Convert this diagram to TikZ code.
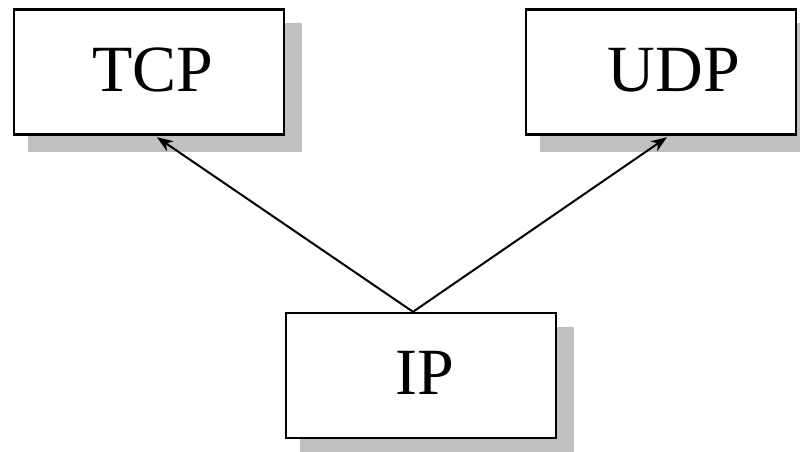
\documentclass[tikz,border=0pt]{standalone}
\usepackage{fontspec}
\setmainfont{Liberation Serif}
\usetikzlibrary{arrows.meta,calc}
\definecolor{shadowgray}{RGB}{192,192,192}
\tikzset{
  box/.style={draw=black, line width=2.4pt, fill=white, minimum width=270pt, minimum height=125pt, inner sep=0pt},
  shadowbox/.style={fill=shadowgray, draw=none, minimum width=274pt, minimum height=129pt, inner sep=0pt},
  lbl/.style={anchor=base, inner sep=0pt, font=\fontsize{66}{72}\selectfont},
  link/.style={line width=2pt, -{Stealth[length=16pt,width=12pt,inset=5pt]}}
}
\begin{document}
\begin{tikzpicture}[x=1pt,y=-1pt]
\useasboundingbox (0,0) rectangle (800,452);
\clip (0,0) rectangle (800,452);
% shadows
\node[shadowbox] (tcpsh) at (165,87.5) {};
\node[shadowbox] (udpsh) at (677,87.5) {};
\node[shadowbox] (ipsh) at (437,391.5) {};
% boxes
\node[box] (tcp) at (149,72) {};
\node[box] (udp) at (661,72) {};
\node[box] (ip) at (421,375.5) {};
% labels
\node[lbl] (tcplbl) at (153,91) {TCP};
\node[lbl] (udplbl) at (674,91) {UDP};
\node[lbl] (iplbl) at (425,394) {IP};
% connectors
\coordinate (ipstart) at ($(ip.north)+(-8,0)$);
\coordinate (tcpend) at ($(tcp.south)+(8,1.5)$);
\coordinate (udpend) at ($(udp.south)+(6,1.5)$);
\draw[link] (ipstart) -- (tcpend);
\draw[link] (ipstart) -- (udpend);
\end{tikzpicture}
\end{document}
